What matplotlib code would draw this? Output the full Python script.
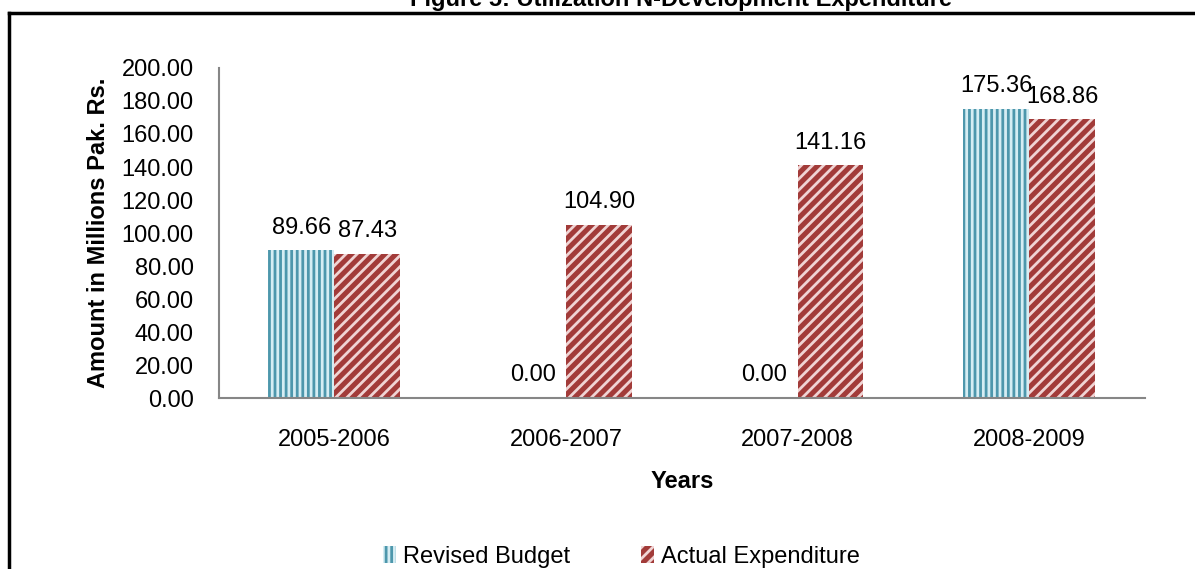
import matplotlib.pyplot as plt
import numpy as np
from matplotlib.lines import Line2D

plt.rcParams['font.family'] = ['Liberation Sans', 'DejaVu Sans']
plt.rcParams['hatch.linewidth'] = 2.0

years = ['2005-2006', '2006-2007', '2007-2008', '2008-2009']
revised_budget = [89.66, 0.00, 0.00, 175.36]
actual_expenditure = [87.43, 104.90, 141.16, 168.86]
yticks = [0, 20, 40, 60, 80, 100, 120, 140, 160, 180, 200]

fig = plt.figure(figsize=(11.95, 5.69), dpi=100)
ax = fig.add_axes([0.183, 0.3005, 0.775, 0.58])

x = np.arange(len(years))
w = 0.285
b1 = ax.bar(x - w / 2, revised_budget, w, facecolor='#d6edf3',
            edgecolor='#4d97ac', linewidth=0, hatch='|||', label='Revised Budget')
b2 = ax.bar(x + w / 2, actual_expenditure, w, facecolor='#a23b39',
            edgecolor='#f0d4d4', linewidth=0, hatch='///', label='Actual Expenditure')

for bars, vals in ((b1, revised_budget), (b2, actual_expenditure)):
    for r, v in zip(bars, vals):
        ax.text(r.get_x() + r.get_width() / 2, v + 7, f'{v:.2f}',
                ha='center', va='bottom', fontsize=17)

ax.set_xlim(-0.5, len(years) - 0.5)
ax.set_ylim(0, 200)
ax.set_yticks(yticks)
ax.set_yticklabels([f'{t:.2f}' for t in yticks])
ax.set_xticks(x)
ax.set_xticklabels(years)
ax.tick_params(axis='both', length=0, labelsize=17)
ax.tick_params(axis='y', pad=18)
ax.tick_params(axis='x', pad=22)
for s in ('top', 'right'):
    ax.spines[s].set_visible(False)
for s in ('left', 'bottom'):
    ax.spines[s].set_color('#868686')
    ax.spines[s].set_linewidth(1.5)

ax.set_xlabel('Years', fontsize=17, fontweight='bold', labelpad=14)
ax.set_ylabel('Amount in Millions Pak. Rs.', fontsize=17, fontweight='bold', labelpad=8)

fig.legend(handles=[b1, b2], loc='center', bbox_to_anchor=(0.52, 0.021),
           ncol=2, frameon=False, fontsize=17, handlelength=0.55,
           handleheight=0.75, handletextpad=0.3, columnspacing=3.0)

fig.text(0.57, 1 - 6 / 569, 'Figure 5: Utilization N-Development Expenditure',
         ha='center', va='baseline', fontsize=17, fontweight='bold')

# outer frame (left and top edges)
fig.add_artist(Line2D([9 / 1195, 9 / 1195], [0, 1 - 13 / 569],
                      transform=fig.transFigure, color='black', linewidth=2.5))
fig.add_artist(Line2D([9 / 1195, 1], [1 - 13 / 569, 1 - 13 / 569],
                      transform=fig.transFigure, color='black', linewidth=2.5))

fig.savefig('out.png', dpi=100)
